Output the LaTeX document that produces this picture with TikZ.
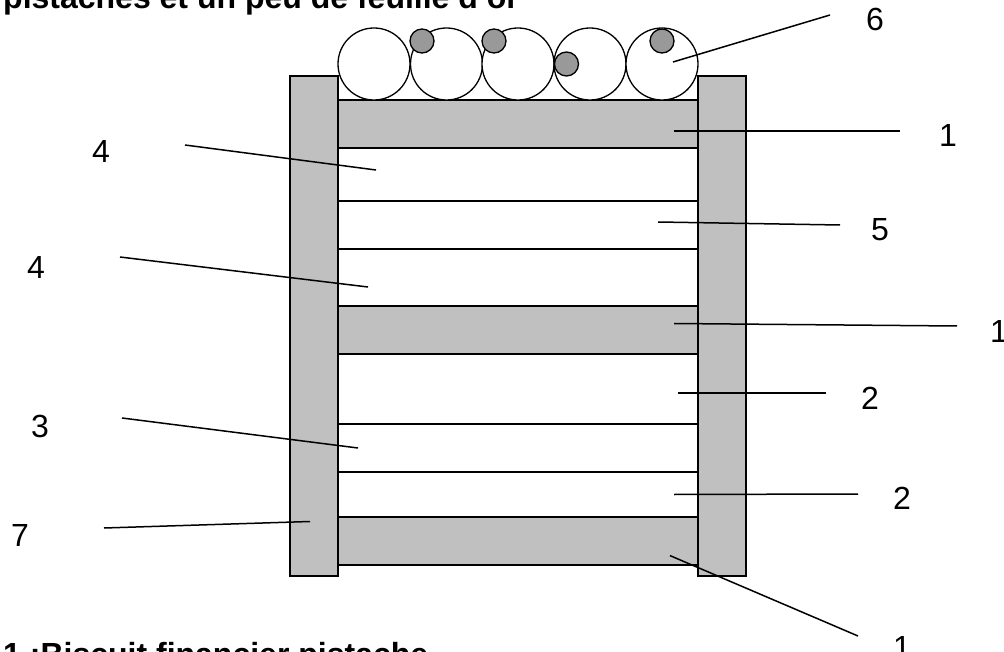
\documentclass[tikz,border=0pt]{standalone}
\usepackage{fontspec}
\setmainfont{Liberation Sans}
\begin{document}
\begin{tikzpicture}[x=1pt,y=-1pt,
  bar/.style={draw=black,line width=1.6pt,fill=barfill},
  layer/.style={draw=black,line width=1.6pt,fill=white},
  ball/.style={draw=black,line width=1.3pt,fill=white},
  dot/.style={draw=black,line width=1.3pt,fill=dotfill},
  leader/.style={draw=black,line width=1.5pt},
  lab/.style={anchor=base west,inner sep=0pt,font=\fontsize{32}{38}\selectfont},
  title/.style={anchor=base west,inner sep=0pt,font=\fontsize{32}{38}\selectfont\bfseries}]
\definecolor{barfill}{HTML}{C0C0C0}
\definecolor{dotfill}{HTML}{999999}
\useasboundingbox (0,0) rectangle (1004,652);
\clip (0,0) rectangle (1004,652);
\fill[white] (0,0) rectangle (1004,652);
% side bars
\draw[bar] (290,76) rectangle (338,576);
\draw[bar] (698,76) rectangle (746,576);
% layers
\draw[bar] (338,100) rectangle (698,148);
\draw[layer] (338,148) rectangle (698,201);
\draw[layer] (338,201) rectangle (698,249);
\draw[layer] (338,249) rectangle (698,306);
\draw[bar] (338,306) rectangle (698,354);
\draw[layer] (338,354) rectangle (698,424);
\draw[layer] (338,424) rectangle (698,472);
\draw[layer] (338,472) rectangle (698,517);
\draw[bar] (338,517) rectangle (698,565);
% balls
\foreach \cx in {374,446.5,518,590,662} \draw[ball] (\cx,64) circle[radius=36];
\draw[dot] (422,41) circle[radius=12];
\draw[dot] (494,41) circle[radius=12];
\draw[dot] (566.5,64) circle[radius=12];
\draw[dot] (662,41) circle[radius=12];
% texts
\node[title] (t1) at (3,9) {pistaches et un peu de feuille d'or};
\node[title] (t2) at (3,665) {1 :Biscuit financier pistache};
% labels
\node[lab] (l6) at (866,31) {6};
\node[lab] (l1a) at (939,147) {1};
\node[lab] (l5) at (871,241) {5};
\node[lab] (l4a) at (92,163) {4};
\node[lab] (l4b) at (27,279) {4};
\node[lab] (l1b) at (990,342) {1};
\node[lab] (l2a) at (861,409) {2};
\node[lab] (l3) at (31,437) {3};
\node[lab] (l2b) at (893,509) {2};
\node[lab] (l7) at (11,546) {7};
\node[lab] (l1c) at (893,658) {1};
% leader end points
\coordinate (p6a) at (830,15);   \coordinate (p6b) at (673,62);
\coordinate (p1aa) at (900,131); \coordinate (p1ab) at (674,131);
\coordinate (p5a) at (840,225);  \coordinate (p5b) at (658,222);
\coordinate (p4aa) at (185,145); \coordinate (p4ab) at (376,170);
\coordinate (p4ba) at (120,257); \coordinate (p4bb) at (368,287);
\coordinate (p1ba) at (957,326); \coordinate (p1bb) at (674,323.5);
\coordinate (p2aa) at (826,393); \coordinate (p2ab) at (678,393);
\coordinate (p3a) at (122,418);  \coordinate (p3b) at (358,448);
\coordinate (p2ba) at (858,494); \coordinate (p2bb) at (674,494.5);
\coordinate (p7a) at (104,528);  \coordinate (p7b) at (310,521.5);
\coordinate (p1ca) at (858,636); \coordinate (p1cb) at (670,555.6);
\foreach \a/\b in {p6a/p6b,p1aa/p1ab,p5a/p5b,p4aa/p4ab,p4ba/p4bb,p1ba/p1bb,p2aa/p2ab,p3a/p3b,p2ba/p2bb,p7a/p7b,p1ca/p1cb}
  \draw[leader] (\a) -- (\b);
\end{tikzpicture}
\end{document}
